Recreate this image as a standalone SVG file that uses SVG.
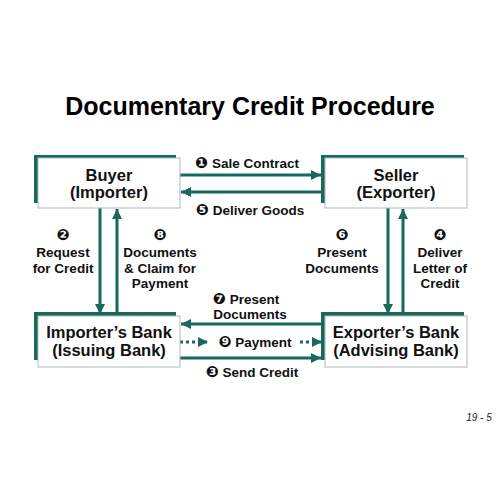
<svg xmlns="http://www.w3.org/2000/svg" width="500" height="500" viewBox="0 0 500 500">
<defs>
<marker id="ah" markerUnits="userSpaceOnUse" markerWidth="10" markerHeight="10" refX="10" refY="5" orient="auto">
<path d="M0,0 L10,5 L0,10 z" fill="#17695c"/>
</marker>
<style>
.shadow{fill:#17695c}
.box{fill:#fff;stroke:#a9bcb8;stroke-width:1}
.name{font-family:"Liberation Sans",Arial,sans-serif;font-weight:bold;font-size:16.5px;fill:#111;text-anchor:middle}
.lbl{font-family:"Liberation Sans","DejaVu Sans",Arial,sans-serif;font-weight:bold;font-size:13.5px;fill:#111;text-anchor:middle}
.num{font-family:"DejaVu Sans",sans-serif;font-size:15.5px}
.ln{stroke:#17695c;stroke-width:3;fill:none}
.dot{stroke:#17695c;stroke-width:3;fill:none;stroke-dasharray:3 3}
</style>
</defs>
<rect width="500" height="500" fill="#fff"/>
<text x="250" y="115" font-family="'Liberation Sans',Arial,sans-serif" font-weight="bold" font-size="25" text-anchor="middle" fill="#000">Documentary Credit Procedure</text>

<g id="connectors">
<line class="ln" x1="180" y1="175" x2="321" y2="175" marker-end="url(#ah)"/>
<line class="ln" x1="321" y1="192" x2="181" y2="192" marker-end="url(#ah)"/>
<line class="ln" x1="100" y1="208" x2="100" y2="314" marker-end="url(#ah)"/>
<line class="ln" x1="117" y1="314" x2="117" y2="209" marker-end="url(#ah)"/>
<line class="ln" x1="388" y1="208" x2="388" y2="314" marker-end="url(#ah)"/>
<line class="ln" x1="403" y1="314" x2="403" y2="209" marker-end="url(#ah)"/>
<line class="ln" x1="321" y1="324" x2="181" y2="324" marker-end="url(#ah)"/>
<line class="dot" x1="180" y1="342" x2="208" y2="342" marker-end="url(#ah)"/>
<line class="dot" x1="300" y1="342" x2="322" y2="342" marker-end="url(#ah)"/>
<line class="ln" x1="180" y1="358" x2="321" y2="358" marker-end="url(#ah)"/>
</g>

<g id="buyer">
<rect class="shadow" x="34" y="155" width="142" height="48"/>
<rect class="box" x="38" y="158" width="142" height="50"/>
<text class="name" x="109" y="181">Buyer</text>
<text class="name" x="109" y="198">(Importer)</text>
</g>
<g id="seller">
<rect class="shadow" x="321" y="155" width="143" height="48"/>
<rect class="box" x="325" y="158" width="142" height="50"/>
<text class="name" x="396" y="181">Seller</text>
<text class="name" x="396" y="198">(Exporter)</text>
</g>
<g id="importers-bank">
<rect class="shadow" x="34" y="312" width="142" height="48"/>
<rect class="box" x="38" y="316" width="142" height="51"/>
<text class="name" x="109" y="338">Importer’s Bank</text>
<text class="name" x="109" y="356">(Issuing Bank)</text>
</g>
<g id="exporters-bank">
<rect class="shadow" x="321" y="312" width="143" height="48"/>
<rect class="box" x="325" y="316" width="142" height="51"/>
<text class="name" x="396" y="338">Exporter’s Bank</text>
<text class="name" x="396" y="356">(Advising Bank)</text>
</g>

<g id="labels">
<text class="lbl" x="247" y="168"><tspan class="num">❶</tspan> Sale Contract</text>
<text class="lbl" x="250" y="215"><tspan class="num">❺</tspan> Deliver Goods</text>
<text class="lbl" x="63" y="240"><tspan class="num">❷</tspan></text>
<text class="lbl" x="63" y="257">Request</text>
<text class="lbl" x="63" y="273">for Credit</text>
<text class="lbl" x="160" y="240"><tspan class="num">❽</tspan></text>
<text class="lbl" x="160" y="257">Documents</text>
<text class="lbl" x="160" y="273">&amp; Claim for</text>
<text class="lbl" x="160" y="288">Payment</text>
<text class="lbl" x="342" y="240"><tspan class="num">❻</tspan></text>
<text class="lbl" x="342" y="257">Present</text>
<text class="lbl" x="342" y="273">Documents</text>
<text class="lbl" x="440" y="240"><tspan class="num">❹</tspan></text>
<text class="lbl" x="440" y="257">Deliver</text>
<text class="lbl" x="440" y="273">Letter of</text>
<text class="lbl" x="440" y="288">Credit</text>
<text class="lbl" x="246" y="304"><tspan class="num">❼</tspan> Present</text>
<text class="lbl" x="250" y="319">Documents</text>
<text class="lbl" x="255" y="347"><tspan class="num">❾</tspan> Payment</text>
<text class="lbl" x="252" y="377"><tspan class="num">❸</tspan> Send Credit</text>
</g>
<text x="479" y="421" font-family="'Liberation Sans',Arial,sans-serif" font-style="italic" font-size="10" text-anchor="middle" fill="#222">19 - 5</text>
</svg>
